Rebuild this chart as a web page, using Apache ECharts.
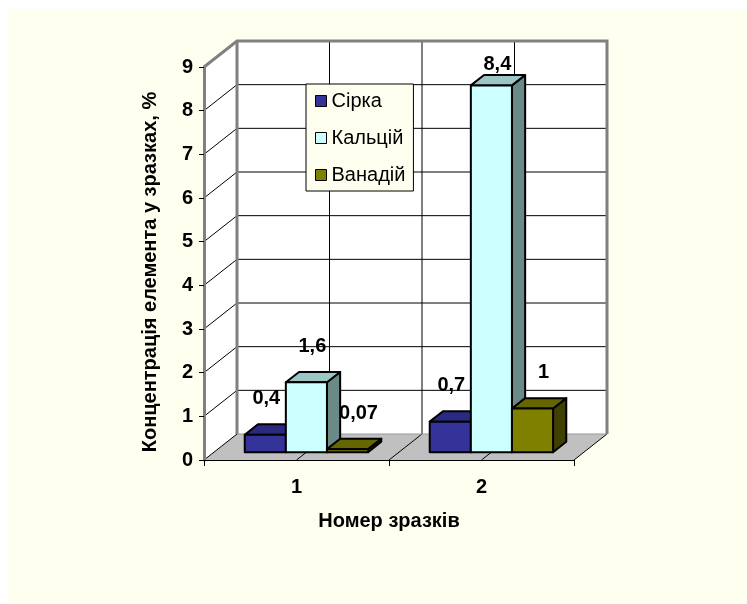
<!DOCTYPE html>
<html>
<head>
<meta charset="utf-8">
<script src="https://cdn.jsdelivr.net/npm/echarts@6/dist/echarts.min.js"></script>
<style>
html, body { margin: 0; padding: 0; background: #fff; }
#bg { position: absolute; left: 8px; top: 9px; right: 0; bottom: 0; background: #FFFFF0; }
#chart { position: absolute; left: 0; top: 0; width: 747px; height: 604px; }
</style>
</head>
<body>
<div id="bg"></div>
<div id="chart"></div>
<script>
// дані
const categories = ['1', '2'];
const seriesNames = ['Сірка', 'Кальцій', 'Ванадій'];
const sirka = [0.4, 0.7];
const kaltsiy = [1.6, 8.4];
const vanadiy = [0.07, 1];
const yMin = 0, yMax = 9, yStep = 1;

// 3D look
const DX = 33, DY = -26;
const FONT = '"Liberation Sans", Arial, sans-serif';
const faces = [
  { front: '#333399', top: '#2a2a80', side: '#1f1f5c' },
  { front: '#ccffff', top: '#9cc5c5', side: '#6a8a87' },
  { front: '#808000', top: '#666600', side: '#404000' }
];

const fmt = v => String(v).replace('.', ',');

function renderWalls(params, api) {
  const band = api.size([1, 0])[0];
  const c0 = api.coord([0, yMin])[0];
  const c1 = api.coord([1, yMin])[0];
  const L = c0 - band / 2, R = c1 + band / 2, mid = (c0 + c1) / 2;
  const y = v => api.coord([0, v])[1];
  const y0 = y(yMin), y9 = y(yMax);
  const thin = { stroke: '#000', lineWidth: 1 };
  const kids = [];

  kids.push({ type: 'polygon', shape: { points: [[L, y0], [L, y9], [L + DX, y9 + DY], [L + DX, y0 + DY]] }, style: { fill: '#fff' } });
  kids.push({ type: 'rect', shape: { x: L + DX, y: y9 + DY, width: R - L, height: y0 - y9 }, style: { fill: '#fff' } });
  kids.push({ type: 'polygon', shape: { points: [[L, y0], [R, y0], [R + DX, y0 + DY], [L + DX, y0 + DY]] }, style: { fill: '#c0c0c0' } });

  for (let v = yMin + yStep; v < yMax; v += yStep) {
    kids.push({ type: 'line', shape: { x1: L + DX, y1: y(v) + DY, x2: R + DX, y2: y(v) + DY }, style: thin });
  }
  for (let v = yMin; v < yMax; v += yStep) {
    kids.push({ type: 'line', shape: { x1: L, y1: y(v), x2: L + DX, y2: y(v) + DY }, style: thin });
  }
  [c0, mid, c1].forEach(x => {
    kids.push({ type: 'line', shape: { x1: x + DX, y1: y9 + DY, x2: x + DX, y2: y0 + DY }, style: thin });
    kids.push({ type: 'line', shape: { x1: x, y1: y0, x2: x + DX, y2: y0 + DY }, style: thin });
  });
  kids.push({ type: 'line', shape: { x1: R, y1: y0, x2: R + DX, y2: y0 + DY }, style: thin });
  kids.push({ type: 'line', shape: { x1: L + DX, y1: y0 + DY, x2: R + DX, y2: y0 + DY }, style: { stroke: '#999', lineWidth: 1 } });

  kids.push({
    type: 'polyline',
    shape: { points: [[L, y9], [L + DX, y9 + DY], [R + DX, y9 + DY], [R + DX, y0 + DY]] },
    style: { stroke: '#808080', lineWidth: 3, fill: null }
  });
  kids.push({ type: 'line', shape: { x1: L + DX, y1: y9 + DY, x2: L + DX, y2: y0 + DY }, style: { stroke: '#808080', lineWidth: 3 } });

  return { type: 'group', children: kids };
}

function barRenderer(idx) {
  const c = faces[idx];
  return function (params, api) {
    const cat = api.value(0), val = api.value(1);
    const band = api.size([1, 0])[0];
    const bw = band / 4.5;
    const base = api.coord([cat, yMin]);
    const top = api.coord([cat, val]);
    const plotTop = api.coord([cat, yMax])[1];
    const ox = DX * 0.3, oy = DY * 0.3;
    const dx = DX * 0.4, dy = DY * 0.4;
    const xl = base[0] + (idx - 1.5) * bw + ox;
    const xr = xl + bw;
    const yb = base[1] + oy, yt = top[1] + oy;
    const edge = { stroke: '#000', lineWidth: 2, lineJoin: 'round' };
    return {
      type: 'group',
      children: [
        { type: 'polygon', shape: { points: [[xr, yb], [xr, yt], [xr + dx, yt + dy], [xr + dx, yb + dy]] }, style: Object.assign({ fill: c.side }, edge) },
        { type: 'polygon', shape: { points: [[xl, yt], [xr, yt], [xr + dx, yt + dy], [xl + dx, yt + dy]] }, style: Object.assign({ fill: c.top }, edge) },
        { type: 'rect', shape: { x: xl, y: yt, width: bw, height: yb - yt }, style: Object.assign({ fill: c.front }, edge) },
        {
          type: 'text', z2: 100,
          style: {
            text: fmt(val), x: (xl + xr) / 2 + 1 + idx * 5, y: Math.max(yt - 36, plotTop - 3),
            align: 'center', verticalAlign: 'middle',
            font: 'bold 20px ' + FONT, fill: '#000'
          }
        }
      ]
    };
  };
}

const values = [sirka, kaltsiy, vanadiy];

const chart = echarts.init(document.getElementById('chart'), null, { renderer: 'canvas' });
chart.setOption({
  backgroundColor: 'transparent',
  animation: false,
  textStyle: { fontFamily: FONT },
  grid: { left: 204, top: 67, width: 370, height: 393, containLabel: false },
  legend: {
    orient: 'vertical',
    left: 306, top: 84,
    data: seriesNames,
    icon: 'rect',
    itemWidth: 11, itemHeight: 11,
    itemGap: 17,
    padding: [7, 8, 6, 9],
    backgroundColor: '#FFFFF0',
    borderColor: '#000', borderWidth: 1,
    itemStyle: { borderColor: '#000', borderWidth: 1 },
    textStyle: { fontSize: 20, lineHeight: 20, color: '#000', fontFamily: FONT },
    selectedMode: false
  },
  xAxis: {
    type: 'category',
    data: categories,
    z: 5,
    axisLine: { lineStyle: { color: '#000', width: 1 } },
    axisTick: { show: true, length: 6, lineStyle: { color: '#000' } },
    axisLabel: { margin: 17, fontSize: 20, fontWeight: 'bold', color: '#000' },
    name: 'Номер зразків',
    nameLocation: 'middle',
    nameGap: 51,
    nameTextStyle: { fontSize: 20, fontWeight: 'bold', color: '#000' }
  },
  yAxis: {
    type: 'value',
    min: yMin, max: yMax, interval: yStep,
    z: 5,
    axisLine: { show: true, lineStyle: { color: '#808080', width: 3 } },
    axisTick: { show: true, length: 5, lineStyle: { color: '#000' } },
    splitLine: { show: false },
    axisLabel: { margin: 11, fontSize: 20, fontWeight: 'bold', color: '#000' },
    name: 'Концентрація елемента у зразках, %',
    nameLocation: 'middle',
    nameGap: 44,
    nameRotate: 90,
    nameTextStyle: { fontSize: 20, fontWeight: 'bold', color: '#000', padding: [0, 17, 0, 0] }
  },
  series: [
    {
      type: 'custom', name: '_walls', z: 1, silent: true,
      renderItem: renderWalls,
      data: [[0, 0]]
    }
  ].concat(seriesNames.map((name, i) => ({
    type: 'custom',
    name: name,
    z: 2,
    itemStyle: { color: faces[i].front },
    renderItem: barRenderer(i),
    data: categories.map((c, j) => [j, values[i][j]])
  })))
});
</script>
</body>
</html>
